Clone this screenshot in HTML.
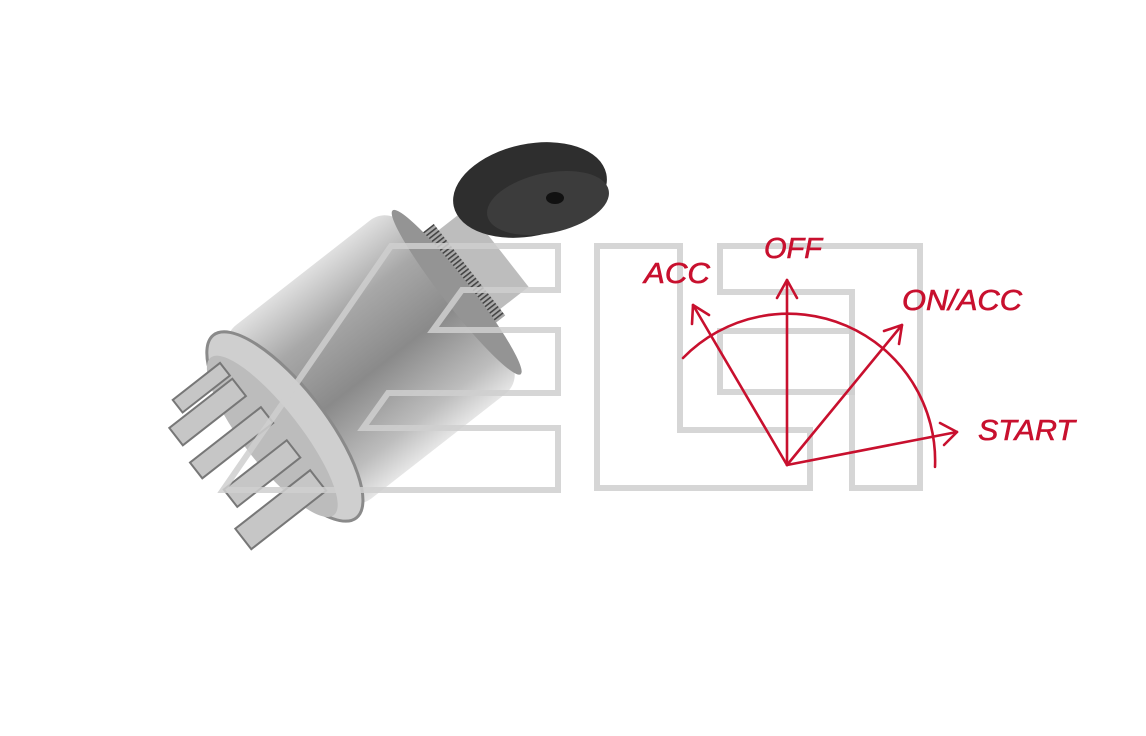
<!DOCTYPE html>
<html><head><meta charset="utf-8">
<style>
html,body{margin:0;padding:0;background:#fff;}
svg{display:block;}
</style></head>
<body>
<svg width="1146" height="736" viewBox="0 0 1146 736" xmlns="http://www.w3.org/2000/svg">
<defs>
<linearGradient id="cyl" x1="0" y1="0" x2="0" y2="1">
<stop offset="0" stop-color="#e0e0e0"/>
<stop offset="0.25" stop-color="#a8a8a8"/>
<stop offset="0.55" stop-color="#8a8a8a"/>
<stop offset="0.85" stop-color="#bdbdbd"/>
<stop offset="1" stop-color="#e6e6e6"/>
</linearGradient>
<pattern id="knurl" width="4" height="4" patternUnits="userSpaceOnUse">
<rect width="4" height="4" fill="#aaa"/><rect width="4" height="1.6" fill="#444"/>
</pattern>
</defs>
<rect width="1146" height="736" fill="#fff"/>

<!-- product photo approximation -->
<g transform="rotate(-38 370 360)">
  <rect x="470" y="300" width="70" height="100" fill="#bdbdbd"/>
  <rect x="470" y="292" width="34" height="116" fill="url(#knurl)"/>
  <rect x="262" y="250" width="218" height="220" rx="24" fill="url(#cyl)"/>
  <ellipse cx="480" cy="360" rx="14" ry="104" fill="#949494"/>
  <ellipse cx="262" cy="360" rx="40" ry="116" fill="#cfcfcf" stroke="#8a8a8a" stroke-width="3"/>
  <ellipse cx="246" cy="360" rx="28" ry="100" fill="#bcbcbc"/>
  <g fill="#c6c6c6" stroke="#777" stroke-width="2">
    <rect x="170" y="290" width="80" height="22"/>
    <rect x="165" y="330" width="90" height="20"/>
    <rect x="175" y="372" width="80" height="22"/>
    <rect x="160" y="410" width="95" height="26"/>
    <rect x="190" y="270" width="60" height="16"/>
  </g>
</g>
<ellipse cx="530" cy="190" rx="78" ry="46" transform="rotate(-12 530 190)" fill="#2e2e2e"/>
<ellipse cx="548" cy="203" rx="62" ry="30" transform="rotate(-12 548 203)" fill="#3c3c3c"/>
<ellipse cx="555" cy="198" rx="9" ry="6" fill="#111"/>

<!-- watermark -->
<g fill="none" stroke="#cfcfcf" stroke-opacity="0.85" stroke-width="6" stroke-linejoin="miter">
  <polygon points="223,490 391,246 558,246 558,290 462,290 433,330 558,330 558,393 388,393 363,428 558,428 558,490"/>
  <polygon points="597,246 680,246 680,430 810,430 810,488 597,488"/>
  <polygon points="720,246 920,246 920,488 852,488 852,292 720,292"/>
  <polygon points="720,331 852,331 852,392 720,392"/>
</g>

<!-- red diagram -->
<g fill="none" stroke="#c8102e" stroke-width="2.6" stroke-linecap="round" stroke-linejoin="round">
  <path d="M683,358 A147,147 0 0 1 935,467"/>
  <line x1="787" y1="465" x2="787" y2="280"/>
  <polyline points="777,298 787,280 797,298"/>
  <line x1="787" y1="465" x2="693" y2="305"/>
  <polyline points="692,324 693,305 709,315"/>
  <line x1="787" y1="465" x2="902" y2="325"/>
  <polyline points="884,331 902,325 899,344"/>
  <line x1="787" y1="465" x2="957" y2="432"/>
  <polyline points="940,423 957,432 944,445"/>
</g>
<g fill="#c8102e" stroke="#c8102e" stroke-width="0.6" font-family="Liberation Sans, sans-serif" font-style="italic" font-size="29">
  <text x="644" y="283" textLength="66" lengthAdjust="spacingAndGlyphs">ACC</text>
  <text x="764" y="258" textLength="58" lengthAdjust="spacingAndGlyphs">OFF</text>
  <text x="902" y="310" textLength="120" lengthAdjust="spacingAndGlyphs">ON/ACC</text>
  <text x="978" y="440" textLength="97" lengthAdjust="spacingAndGlyphs">START</text>
</g>
</svg>
</body></html>
